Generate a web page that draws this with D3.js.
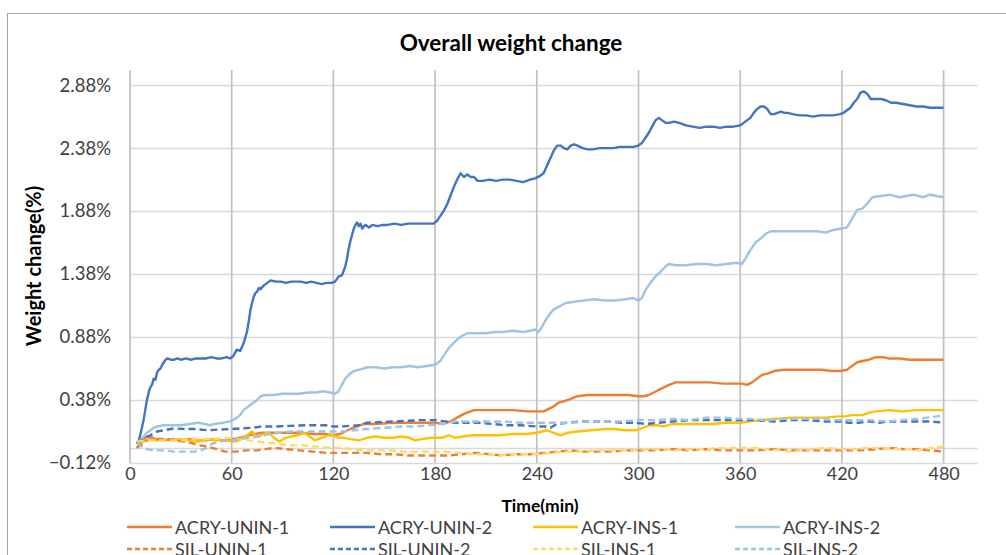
<!DOCTYPE html>
<html>
<head>
<meta charset="utf-8">
<script src="https://cdn.jsdelivr.net/npm/d3@7"></script>
<style>
  html, body { margin: 0; padding: 0; background: #fff; }
  svg { display: block; font-family: Lato, "Open Sans", sans-serif; }
</style>
</head>
<body>
<svg id="chart" width="1006" height="555"></svg>
<script>
// Elapsed time (min) and weight change (%) for each specimen.
const acryUnin1 = [[4,0.00],[6,0.03],[8,0.07],[10,0.09],[12,0.09],[15,0.07],[20,0.06],[25,0.07],[30,0.06],[35,0.07],[40,0.06],[45,0.06],[50,0.07],[55,0.06],[60,0.07],[65,0.08],[70,0.10],[74,0.11],[78,0.12],[85,0.12],[92,0.12],[100,0.12],[108,0.11],[115,0.11],[120,0.10],[124,0.11],[127,0.13],[130,0.15],[134,0.17],[138,0.19],[145,0.19],[155,0.20],[165,0.20],[175,0.20],[180,0.20],[185,0.19],[189,0.21],[193,0.24],[197,0.27],[201,0.29],[203,0.30],[210,0.30],[218,0.30],[226,0.30],[234,0.29],[240,0.29],[244,0.29],[247,0.31],[250,0.33],[253,0.36],[256,0.37],[260,0.39],[264,0.41],[270,0.42],[278,0.42],[286,0.42],[294,0.42],[300,0.41],[303,0.41],[306,0.42],[309,0.44],[312,0.46],[315,0.48],[318,0.50],[322,0.52],[328,0.52],[335,0.52],[342,0.52],[350,0.51],[356,0.51],[361,0.51],[364,0.50],[367,0.52],[370,0.55],[373,0.58],[376,0.59],[380,0.61],[386,0.62],[392,0.62],[400,0.62],[408,0.62],[414,0.61],[419,0.61],[423,0.62],[426,0.65],[429,0.68],[432,0.69],[436,0.70],[440,0.72],[444,0.72],[448,0.71],[454,0.71],[460,0.70],[466,0.70],[472,0.70],[480,0.70]];

const acryUnin2 = [[4,0.03],[5,0.05],[6,0.10],[7,0.16],[8,0.22],[9,0.30],[10,0.38],[11,0.44],[12,0.48],[13,0.50],[14,0.55],[15,0.54],[16,0.60],[17,0.62],[18,0.63],[19,0.66],[20,0.68],[21,0.70],[22,0.71],[24,0.70],[26,0.70],[28,0.71],[30,0.70],[33,0.71],[36,0.70],[39,0.71],[42,0.71],[45,0.71],[48,0.72],[51,0.71],[54,0.71],[57,0.72],[59,0.71],[61,0.73],[63,0.78],[65,0.77],[67,0.83],[69,0.92],[70,1.00],[71,1.09],[72,1.15],[73,1.20],[74,1.23],[75,1.24],[76,1.27],[77,1.26],[79,1.29],[81,1.31],[83,1.33],[86,1.32],[89,1.32],[92,1.31],[95,1.32],[98,1.32],[101,1.32],[104,1.31],[107,1.32],[110,1.31],[113,1.30],[116,1.31],[119,1.31],[121,1.32],[123,1.36],[125,1.37],[127,1.44],[128,1.50],[129,1.58],[130,1.64],[131,1.69],[132,1.74],[133,1.77],[134,1.79],[135,1.76],[136,1.78],[137,1.74],[138,1.76],[139,1.77],[141,1.75],[143,1.77],[146,1.76],[149,1.77],[152,1.77],[156,1.78],[160,1.77],[164,1.78],[168,1.78],[172,1.78],[176,1.78],[179,1.78],[181,1.80],[183,1.84],[185,1.88],[187,1.93],[189,2.00],[191,2.07],[193,2.13],[195,2.18],[197,2.15],[199,2.17],[201,2.15],[203,2.15],[205,2.12],[208,2.12],[212,2.13],[216,2.12],[220,2.13],[224,2.13],[228,2.12],[232,2.11],[236,2.13],[239,2.14],[242,2.16],[244,2.18],[246,2.24],[248,2.30],[250,2.36],[252,2.40],[254,2.40],[256,2.38],[258,2.37],[260,2.40],[262,2.41],[264,2.40],[267,2.38],[270,2.37],[273,2.37],[277,2.38],[281,2.38],[285,2.38],[289,2.39],[293,2.39],[297,2.39],[300,2.40],[302,2.42],[304,2.46],[306,2.50],[308,2.55],[310,2.60],[312,2.62],[314,2.60],[316,2.58],[318,2.58],[321,2.59],[324,2.58],[328,2.56],[332,2.55],[336,2.54],[340,2.55],[344,2.55],[348,2.54],[352,2.55],[356,2.55],[360,2.56],[362,2.58],[364,2.60],[366,2.62],[368,2.66],[370,2.69],[372,2.71],[374,2.71],[376,2.69],[378,2.65],[380,2.65],[382,2.66],[384,2.67],[386,2.66],[388,2.66],[391,2.65],[395,2.64],[399,2.64],[403,2.63],[407,2.64],[411,2.64],[415,2.64],[419,2.65],[421,2.66],[423,2.68],[425,2.70],[427,2.74],[429,2.77],[431,2.82],[433,2.83],[435,2.81],[437,2.77],[440,2.77],[443,2.77],[446,2.76],[449,2.74],[452,2.74],[456,2.73],[460,2.72],[464,2.71],[468,2.71],[472,2.70],[476,2.70],[480,2.70]];

const acryIns1 = [[4,0.04],[8,0.05],[12,0.07],[16,0.06],[20,0.07],[25,0.06],[30,0.07],[35,0.06],[40,0.05],[45,0.07],[50,0.06],[56,0.06],[62,0.05],[66,0.07],[70,0.11],[72,0.13],[74,0.10],[76,0.09],[79,0.11],[82,0.12],[85,0.08],[88,0.05],[92,0.08],[95,0.09],[99,0.10],[103,0.12],[106,0.09],[109,0.06],[113,0.08],[117,0.10],[120,0.10],[123,0.08],[126,0.08],[130,0.07],[135,0.06],[140,0.08],[145,0.09],[150,0.08],[155,0.08],[160,0.09],[165,0.08],[168,0.06],[172,0.07],[178,0.08],[184,0.08],[188,0.10],[192,0.08],[196,0.09],[202,0.10],[210,0.10],[218,0.10],[226,0.11],[234,0.11],[240,0.12],[243,0.13],[246,0.14],[250,0.12],[254,0.10],[258,0.12],[264,0.13],[272,0.14],[280,0.15],[286,0.15],[292,0.14],[299,0.14],[303,0.16],[307,0.18],[311,0.18],[315,0.17],[320,0.19],[328,0.19],[336,0.19],[344,0.19],[352,0.20],[360,0.20],[366,0.21],[372,0.22],[380,0.23],[390,0.24],[400,0.24],[410,0.24],[418,0.25],[422,0.25],[426,0.26],[432,0.26],[436,0.28],[440,0.29],[448,0.30],[456,0.29],[464,0.30],[472,0.30],[480,0.30]];

const acryIns2 = [[4,0.04],[6,0.06],[8,0.09],[10,0.12],[12,0.14],[14,0.16],[16,0.17],[20,0.18],[25,0.18],[30,0.18],[35,0.19],[40,0.20],[44,0.19],[47,0.18],[50,0.19],[55,0.20],[59,0.21],[62,0.23],[65,0.26],[67,0.30],[69,0.32],[71,0.34],[73,0.36],[75,0.38],[77,0.41],[80,0.42],[85,0.42],[90,0.43],[95,0.43],[100,0.43],[105,0.44],[110,0.44],[114,0.45],[118,0.44],[121,0.43],[123,0.45],[125,0.50],[127,0.55],[129,0.58],[132,0.61],[135,0.62],[140,0.64],[145,0.64],[150,0.63],[155,0.64],[160,0.64],[165,0.65],[170,0.64],[175,0.65],[180,0.66],[183,0.69],[185,0.73],[188,0.79],[190,0.82],[193,0.86],[196,0.89],[199,0.91],[205,0.91],[210,0.91],[215,0.92],[220,0.92],[226,0.93],[232,0.92],[236,0.93],[239,0.94],[241,0.92],[243,0.96],[245,1.01],[248,1.07],[250,1.10],[253,1.12],[257,1.15],[262,1.16],[268,1.17],[274,1.18],[280,1.17],[286,1.17],[292,1.18],[297,1.19],[300,1.17],[302,1.19],[304,1.25],[307,1.31],[310,1.36],[313,1.40],[316,1.44],[318,1.46],[322,1.45],[328,1.45],[334,1.46],[340,1.46],[346,1.45],[352,1.46],[358,1.47],[361,1.46],[363,1.50],[366,1.57],[369,1.63],[372,1.66],[375,1.70],[378,1.72],[383,1.72],[390,1.72],[397,1.72],[405,1.72],[411,1.71],[415,1.73],[419,1.74],[423,1.75],[426,1.82],[429,1.89],[432,1.90],[435,1.94],[438,1.99],[443,2.00],[448,2.01],[454,1.99],[458,2.00],[462,2.01],[468,1.99],[472,2.01],[476,2.00],[480,1.99]];

const silUnin1 = [[4,0.00],[7,0.03],[10,0.06],[14,0.07],[20,0.07],[26,0.06],[32,0.05],[36,0.04],[41,0.02],[46,0.01],[51,-0.01],[56,-0.03],[62,-0.03],[68,-0.02],[75,-0.02],[80,-0.01],[85,0.00],[92,-0.01],[100,-0.02],[108,-0.03],[116,-0.04],[124,-0.04],[132,-0.04],[140,-0.04],[148,-0.05],[156,-0.05],[164,-0.06],[172,-0.06],[180,-0.06],[188,-0.06],[196,-0.05],[204,-0.04],[212,-0.05],[220,-0.06],[228,-0.05],[236,-0.05],[244,-0.04],[252,-0.03],[260,-0.02],[268,-0.03],[276,-0.03],[284,-0.03],[292,-0.02],[300,-0.02],[310,-0.02],[320,-0.01],[330,-0.02],[340,-0.01],[350,-0.02],[360,-0.02],[370,-0.02],[380,-0.01],[390,-0.02],[400,-0.02],[410,-0.02],[420,-0.02],[430,-0.02],[440,-0.01],[448,0.00],[456,-0.01],[464,-0.01],[472,-0.02],[480,-0.03]];

const silUnin2 = [[4,0.04],[8,0.07],[12,0.10],[16,0.13],[20,0.14],[26,0.155],[32,0.15],[38,0.15],[46,0.14],[52,0.145],[60,0.15],[66,0.155],[72,0.16],[78,0.17],[86,0.17],[95,0.175],[105,0.18],[115,0.18],[120,0.17],[125,0.17],[130,0.175],[135,0.18],[140,0.20],[148,0.205],[156,0.21],[164,0.215],[172,0.22],[180,0.22],[186,0.21],[192,0.20],[198,0.20],[206,0.20],[214,0.19],[222,0.18],[230,0.18],[240,0.17],[246,0.17],[248,0.16],[252,0.19],[258,0.20],[266,0.21],[274,0.21],[282,0.21],[290,0.20],[298,0.20],[304,0.19],[312,0.20],[320,0.21],[330,0.22],[340,0.22],[350,0.22],[360,0.22],[370,0.22],[380,0.21],[390,0.22],[400,0.22],[410,0.21],[419,0.21],[424,0.20],[430,0.20],[436,0.21],[442,0.20],[448,0.21],[456,0.21],[464,0.21],[472,0.21],[480,0.20]];

const silIns1 = [[4,0.05],[10,0.06],[16,0.06],[24,0.06],[32,0.06],[40,0.07],[48,0.07],[56,0.08],[64,0.07],[70,0.06],[76,0.05],[82,0.04],[88,0.03],[95,0.02],[102,0.02],[110,0.01],[118,0.00],[125,0.00],[131,-0.01],[138,-0.02],[146,-0.02],[154,-0.02],[162,-0.03],[170,-0.03],[178,-0.03],[186,-0.03],[194,-0.04],[202,-0.05],[210,-0.05],[218,-0.06],[226,-0.05],[234,-0.05],[242,-0.05],[250,-0.04],[258,-0.03],[266,-0.03],[274,-0.02],[282,-0.02],[290,-0.02],[298,-0.02],[306,-0.01],[314,-0.01],[322,-0.02],[330,-0.01],[340,-0.01],[350,0.00],[360,0.00],[368,0.00],[376,-0.01],[384,-0.02],[390,-0.03],[396,-0.02],[402,-0.01],[410,0.00],[420,-0.01],[428,-0.01],[436,0.00],[444,0.00],[452,-0.01],[460,-0.01],[466,-0.02],[472,0.00],[480,0.01]];

const silIns2 = [[4,0.04],[7,0.01],[10,-0.01],[14,-0.02],[20,-0.02],[26,-0.03],[32,-0.03],[38,-0.03],[42,-0.02],[45,0.00],[48,0.03],[52,0.05],[58,0.06],[64,0.07],[70,0.08],[76,0.09],[82,0.11],[88,0.12],[95,0.13],[105,0.13],[115,0.13],[125,0.13],[132,0.14],[140,0.15],[150,0.16],[160,0.17],[168,0.17],[176,0.18],[184,0.19],[192,0.21],[200,0.21],[210,0.21],[220,0.21],[230,0.20],[240,0.20],[250,0.20],[260,0.20],[270,0.21],[280,0.21],[290,0.21],[300,0.22],[310,0.22],[320,0.23],[330,0.22],[340,0.24],[350,0.24],[358,0.23],[366,0.23],[376,0.22],[386,0.23],[396,0.23],[406,0.23],[416,0.22],[426,0.22],[436,0.22],[446,0.21],[456,0.22],[464,0.23],[470,0.24],[476,0.25],[480,0.26]];

const seriesNames = ["ACRY-UNIN-1", "ACRY-UNIN-2", "ACRY-INS-1", "ACRY-INS-2",
                     "SIL-UNIN-1", "SIL-UNIN-2", "SIL-INS-1", "SIL-INS-2"];
const seriesValues = [acryUnin1, acryUnin2, acryIns1, acryIns2,
                      silUnin1, silUnin2, silIns1, silIns2];
const seriesColors = ["#ED7D31", "#4472C4", "#FFC000", "#9DC3E6",
                      "#ED7D31", "#4472C4", "#FFD966", "#9DC3E6"];
const seriesDashed = [false, false, false, false, true, true, true, true];

const xTicks = [0, 60, 120, 180, 240, 300, 360, 420, 480];
const yTicks = [-0.12, 0.38, 0.88, 1.38, 1.88, 2.38, 2.88];

const svg = d3.select("#chart");
const W = 1006, H = 555;

svg.append("rect").attr("width", W).attr("height", H).attr("fill", "#fff");
// chart-area frame
svg.append("rect")
  .attr("x", 7.5).attr("y", 13.5).attr("width", 1100).attr("height", 700)
  .attr("fill", "none").attr("stroke", "#a6a6a6").attr("stroke-width", 1);

const x = d3.scaleLinear().domain([0, 500]).range([130, 977.5]);
const y = d3.scaleLinear().domain([-0.12, 3.0]).range([463, 70]);

// horizontal gridlines
svg.append("g").selectAll("line").data(yTicks).join("line")
  .attr("x1", x(0)).attr("x2", x(500))
  .attr("y1", d => Math.round(y(d)) + 0.5).attr("y2", d => Math.round(y(d)) + 0.5)
  .attr("stroke", "#d9d9d9").attr("stroke-width", 1.3);
// zero line
svg.append("line")
  .attr("x1", x(0)).attr("x2", x(500))
  .attr("y1", Math.round(y(0)) + 0.5).attr("y2", Math.round(y(0)) + 0.5)
  .attr("stroke", "#d9d9d9").attr("stroke-width", 1.3);

// vertical gridlines
svg.append("g").selectAll("line").data(xTicks).join("line")
  .attr("x1", d => x(d)).attr("x2", d => x(d))
  .attr("y1", y(3.0)).attr("y2", y(-0.12))
  .attr("stroke", "#c0c0c0").attr("stroke-width", 1.7);

// axes (labels only)
const fmt = d3.format(".2%");
const yAxis = svg.append("g").attr("transform", "translate(111,0)")
  .call(d3.axisLeft(y).tickValues(yTicks).tickSize(0).tickPadding(0).tickFormat(d => fmt(d / 100)));
yAxis.select(".domain").remove();
yAxis.selectAll("text").attr("font-family", "Lato, sans-serif").attr("font-size", 18.5).attr("fill", "#404040");

const xAxis = svg.append("g").attr("transform", "translate(0,467)")
  .call(d3.axisBottom(x).tickValues(xTicks).tickSize(0).tickPadding(0).tickFormat(d3.format("d")));
xAxis.select(".domain").remove();
xAxis.selectAll("text").attr("font-family", "Lato, sans-serif").attr("font-size", 18).attr("fill", "#404040");

// series
const line = d3.line().x(d => x(d[0])).y(d => y(d[1]));
const order = [0, 1, 2, 3, 4, 5, 6, 7];
svg.append("g").selectAll("path").data(order).join("path")
  .attr("d", i => line(seriesValues[i]))
  .attr("fill", "none")
  .attr("stroke", i => seriesColors[i])
  .attr("stroke-width", 2.4)
  .attr("stroke-linejoin", "round")
  .attr("stroke-dasharray", i => seriesDashed[i] ? "7,4" : null);

// titles
svg.append("text").attr("x", 511).attr("y", 51).attr("text-anchor", "middle")
  .attr("font-size", 22.5).attr("font-weight", "bold").attr("fill", "#000")
  .text("Overall weight change");
svg.append("text").attr("x", 540).attr("y", 512).attr("text-anchor", "middle")
  .attr("font-size", 17.5).attr("font-weight", "bold").attr("fill", "#000")
  .text("Time(min)");
svg.append("text").attr("transform", "translate(41,266) rotate(-90)").attr("text-anchor", "middle")
  .attr("font-size", 20).attr("font-weight", "bold").attr("fill", "#000")
  .text("Weight change(%)");

// legend: two rows of four
const legend = svg.append("g");
const colX = [127, 330, 533, 735];
const rowY = [527, 549];
const items = legend.selectAll("g").data(order).join("g")
  .attr("transform", i => `translate(${colX[i % 4]},${rowY[Math.floor(i / 4)]})`);
items.append("line")
  .attr("x1", 0).attr("x2", 45).attr("y1", 0).attr("y2", 0)
  .attr("stroke", i => seriesColors[i]).attr("stroke-width", 2.4)
  .attr("stroke-dasharray", i => seriesDashed[i] ? "5,3" : null);
items.append("text").attr("x", 48).attr("y", 6.5)
  .attr("font-size", 18).attr("font-family", "Lato, sans-serif").attr("fill", "#404040")
  .text(i => seriesNames[i]);
</script>
</body>
</html>
